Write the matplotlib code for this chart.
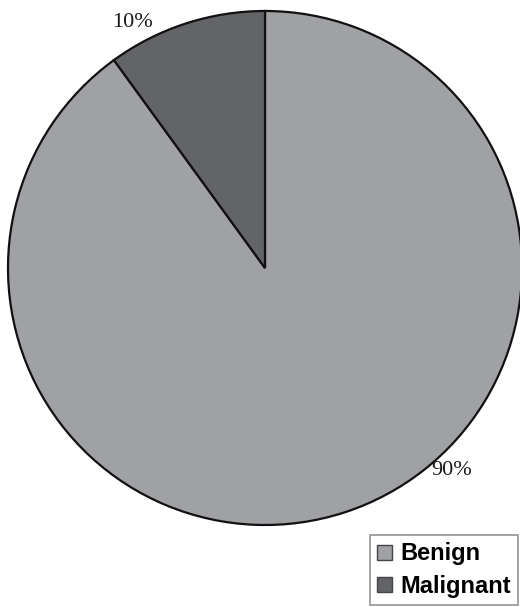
import matplotlib
matplotlib.use("Agg")
import matplotlib.pyplot as plt
from matplotlib.patches import Patch

categories = ["Benign", "Malignant"]
values = [90, 10]
pct_labels = ["90%", "10%"]
colors = ["#a0a1a5", "#636468"]

fig = plt.figure(figsize=(5.2, 6.07), dpi=100)
ax = fig.add_axes([8/520, 82/607, 514/520, 514/607])
wedges, _ = ax.pie(values, colors=colors, startangle=90, counterclock=False,
                   wedgeprops=dict(edgecolor="#111111", linewidth=1.6),
                   radius=1.0)
for w in wedges:
    w.set_clip_on(False)
ax.set_xlim(-1, 1)
ax.set_ylim(-1, 1)
ax.set_aspect("equal")
ax.axis("off")

ax.text(0.728, -0.786, pct_labels[0], ha="center", va="center",
        fontsize=16, family="Liberation Serif", color="#1a1a1a")
ax.text(-0.514, 0.957, pct_labels[1], ha="center", va="center",
        fontsize=16, family="Liberation Serif", color="#1a1a1a")

handles = [Patch(facecolor=c, edgecolor="#444444", linewidth=1) for c in colors]
leg = fig.legend(handles, categories, loc="lower right",
                 bbox_to_anchor=(518/520, 2/607),
                 prop=dict(family="Liberation Sans", weight="bold", size=17),
                 frameon=True, fancybox=False, handlelength=0.62, handleheight=0.62,
                 handletextpad=0.35, labelspacing=0.4, borderpad=0.3,
                 borderaxespad=0)
leg.get_frame().set_edgecolor("#777777")
leg.get_frame().set_linewidth(1.2)

fig.savefig("out.png", dpi=100)
